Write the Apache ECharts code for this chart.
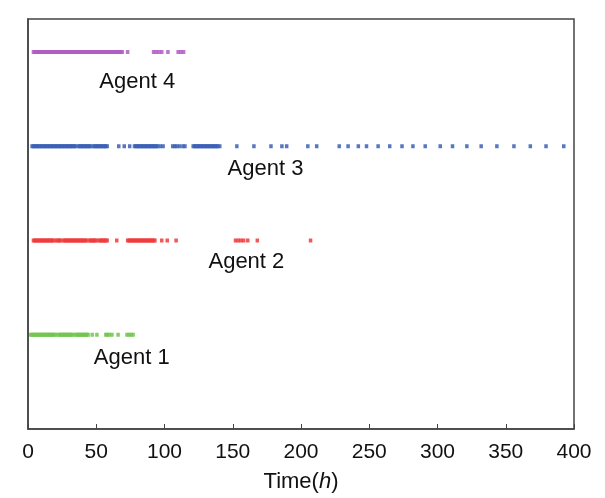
<!DOCTYPE html>
<html>
<head>
<meta charset="utf-8">
<script src="https://cdn.jsdelivr.net/npm/echarts@6/dist/echarts.min.js"></script>
<style>
html,body{margin:0;padding:0;background:#fff;}
#chart{width:605px;height:498px;}
</style>
</head>
<body>
<div id="chart"></div>
<script>
var xTicks = [0, 50, 100, 150, 200, 250, 300, 350, 400];
var agentNames = ['Agent 1', 'Agent 2', 'Agent 3', 'Agent 4'];
var agentLevels = [1, 2, 3, 4];
var agentColors = ['#72c450', '#ee3b3b', '#3b5fb6', '#b05cc6'];

var agent1Times = [2,3,4,5,6,7,8,9,10,11,12,13,14,15,16,17,18,19,20,22,23,24,25,26,27,28,29,30,31,32,33,35,36,37,38,39,40,41,42,43,44,47,50.5,57,58,59.5,61.5,66,72.5,74,75.5,77];
var agent2Times = [4,5,6,7,8,9,10,11,12,13,14,15,16,17,18,19,21,22,23,24,26,27,28,29,30,31,32,33,34,35,36,37,38,39,40,41,42,43,45,46,47,48,49,50,52,53,54,55,56,57,58,65,73,74,75,76,77,78,79,80,81,82,83,84,85,86,87,88,89,90,91,92,93,98,102,108.5,152,154,156,158,161,168,207];
var agent3Times = [3,4,5,6,7,8,9,10,11,12,13,14,15,16,17,18,19,20,21,22,23,24,25,26,27,28,29,30,31,32,33,34,35,37,38,39,40,41,42,43,44,45,46,48,49,50,51,52,53,54,55,56,57,58,66.5,70.5,74.5,78,79,80,81,82,83,84,85,86,87,88,89,90,91,92,93,94,95,97,99,106,107.5,109,111,113.5,115,121,122,123,124,125,126,127,128,129,130,131,132,133,134,135,136,137,138,139,140.5,153,165.5,178,186,189.5,205,211.5,228,234.5,242,248,256.5,265,274,282,291,302,311,321.5,332,343.5,356,368,379.5,392.5];
var agent4Times = [4,5,6,7,8,9,10,11,12,13,14,15,16,17,18,19,20,21,22,23,24,25,26,27,28,29,30,31,32,33,34,35,36,37,38,39,40,41,42,43,44,45,46,47,48,49,50,51,52,53,54,55,56,57,58,59,60,61,62,63,64,65,66,67,68,69,73,92,94,96,98,102.5,110,112,114];
var labelPos = [[76, 0.75], [160, 1.77], [174, 2.76], [80, 3.68]];

var FONT = 'Liberation Sans, Arial, sans-serif';
var allTimes = [agent1Times, agent2Times, agent3Times, agent4Times];
var series = [];
allTimes.forEach(function (times, i) {
  series.push({
    type: 'scatter',
    name: agentNames[i],
    symbol: 'rect',
    symbolSize: [3.5, 4],
    itemStyle: { color: agentColors[i], opacity: 0.85 },
    silent: true,
    data: times.map(function (t) { return [t, agentLevels[i]]; })
  });
});
series.push({
  type: 'scatter',
  symbolSize: 0,
  silent: true,
  itemStyle: { opacity: 1 },
  label: {
    show: true,
    position: 'inside',
    formatter: '{b}',
    color: '#111',
    fontSize: 22,
    fontFamily: FONT
  },
  data: labelPos.map(function (p, i) { return { name: agentNames[i], value: p }; })
});

var chart = echarts.init(document.getElementById('chart'), null, { renderer: 'canvas' });
chart.setOption({
  animation: false,
  backgroundColor: '#fff',
  grid: {
    left: 28, right: 31, top: 19, bottom: 56,
    show: true, borderColor: '#444', borderWidth: 1.5, backgroundColor: 'transparent'
  },
  xAxis: {
    type: 'value',
    min: xTicks[0], max: xTicks[xTicks.length - 1], interval: 50,
    axisLine: { show: true, lineStyle: { color: '#444', width: 1.5 } },
    axisTick: { show: true, inside: true, length: 5, lineStyle: { color: '#444', width: 1 } },
    axisLabel: { color: '#111', fontSize: 21, margin: 13, fontFamily: FONT },
    splitLine: { show: false },
    name: '{a|Time(}{b|h}{a|)}',
    nameLocation: 'middle',
    nameGap: 42,
    nameTextStyle: {
      rich: {
        a: { fontSize: 22, color: '#111', fontFamily: FONT },
        b: { fontSize: 22, color: '#111', fontStyle: 'italic', fontFamily: FONT }
      }
    }
  },
  yAxis: {
    type: 'value',
    min: 0, max: 4.35,
    axisLine: { show: true, lineStyle: { color: '#444', width: 1.5 } },
    axisTick: { show: false },
    axisLabel: { show: false },
    splitLine: { show: false }
  },
  series: series
});
</script>
</body>
</html>
